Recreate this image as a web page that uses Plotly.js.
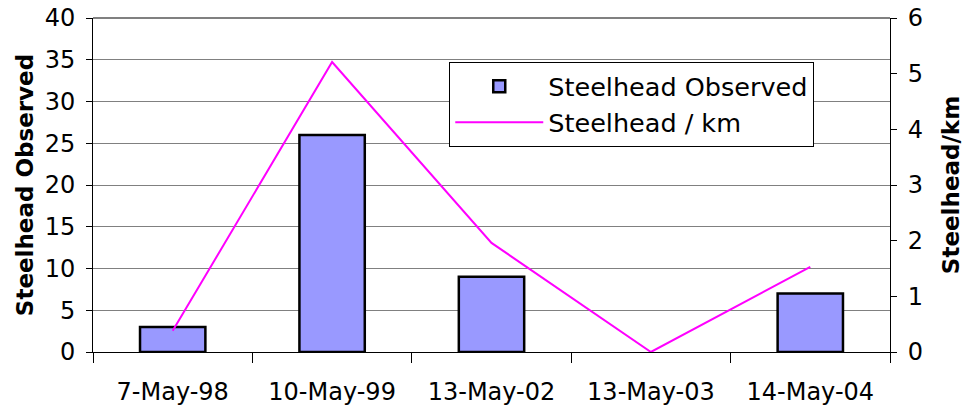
<!DOCTYPE html>
<html>
<head>
<meta charset="utf-8">
<script src="https://cdn.plot.ly/plotly-3.0.1.min.js"></script>
<style>html,body{margin:0;padding:0;background:#fff;}#chart{width:964px;height:412px;}</style>
</head>
<body>
<div id="chart"></div>
<script>
const categories = ["7-May-98", "10-May-99", "13-May-02", "13-May-03", "14-May-04"];
const steelheadObserved = [3, 26, 9, 0, 7];
const steelheadPerKm = [0.38, 5.21, 1.96, 0, 1.53];

const font = "DejaVu Sans, Liberation Sans, Arial, sans-serif";

const traces = [
  {
    type: "bar",
    x: categories,
    y: steelheadObserved,
    name: "Steelhead Observed",
    width: 0.41,
    marker: {color: "#9999FF", line: {color: "#000000", width: steelheadObserved.map(v => v > 0 ? 2.5 : 0)}},
    yaxis: "y"
  },
  {
    type: "scatter",
    mode: "lines",
    x: categories,
    y: steelheadPerKm,
    name: "Steelhead / km",
    line: {color: "#FF00FF", width: 2},
    yaxis: "y2"
  }
];

const layout = {
  width: 964,
  height: 412,
  margin: {l: 93, r: 74, t: 18, b: 60},
  paper_bgcolor: "#ffffff",
  plot_bgcolor: "#ffffff",
  font: {family: font, size: 24, color: "#000"},
  showlegend: true,
  legend: {
    x: 0.447, y: 0.868, xanchor: "left", yanchor: "top",
    bgcolor: "#ffffff", bordercolor: "#000000", borderwidth: 1,
    font: {family: font, size: 25.5, color: "#000"},
    itemwidth: 88,
    traceorder: "normal"
  },
  xaxis: {
    type: "category",
    tickson: "boundaries",
    ticks: "outside",
    ticklen: 10,
    tickcolor: "#000",
    showline: true,
    linecolor: "#000",
    linewidth: 1,
    showgrid: false,
    tickfont: {family: font, size: 24},
    ticklabelstandoff: 18,
    range: [-0.5, 4.5]
  },
  yaxis: {
    range: [0, 40],
    dtick: 5,
    ticks: "outside",
    ticklen: 6,
    tickcolor: "#000",
    showline: true,
    linecolor: "#000",
    linewidth: 1,
    showgrid: true,
    gridcolor: "#808080",
    gridwidth: 1,
    zeroline: false,
    tickfont: {family: font, size: 24},
    ticklabelstandoff: 6,
    title: {text: "Steelhead Observed", font: {family: font, size: 23, weight: "bold"}, standoff: 4}
  },
  yaxis2: {
    overlaying: "y",
    side: "right",
    range: [0, 6],
    dtick: 1,
    ticks: "outside",
    ticklen: 6,
    tickcolor: "#000",
    showline: true,
    linecolor: "#000",
    linewidth: 1,
    showgrid: false,
    zeroline: false,
    tickfont: {family: font, size: 24},
    ticklabelstandoff: 6,
    title: {text: "Steelhead/km", font: {family: font, size: 23, weight: "bold"}, standoff: 22}
  },
  shapes: [
    {type: "line", xref: "paper", yref: "paper", x0: 0, x1: 1, y0: 1, y1: 1, line: {color: "#808080", width: 2}}
  ]
};

Plotly.newPlot("chart", traces, layout, {displayModeBar: false, staticPlot: true});
</script>
</body>
</html>
